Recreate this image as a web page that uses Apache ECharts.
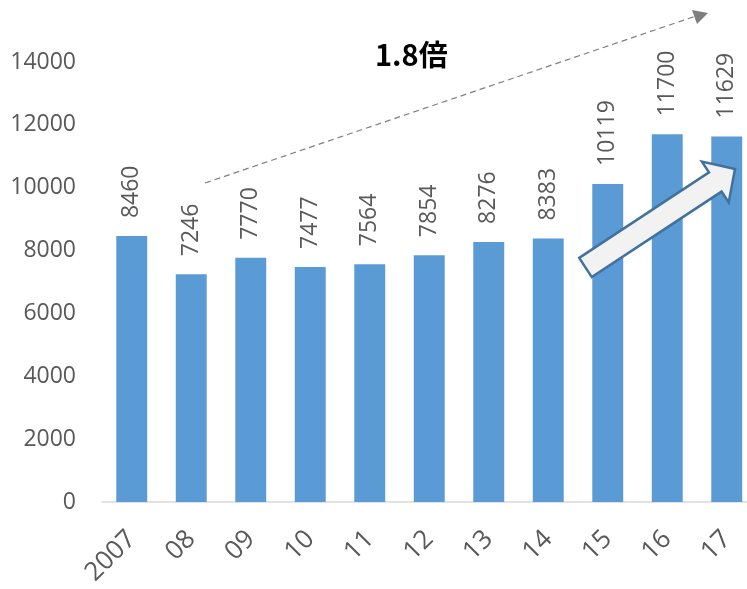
<!DOCTYPE html>
<html>
<head>
<meta charset="utf-8">
<script src="https://cdn.jsdelivr.net/npm/echarts@6/dist/echarts.min.js"></script>
<style>
  html, body { margin: 0; padding: 0; background: #fff; }
  #chart { width: 747px; height: 589px; }
</style>
</head>
<body>
<div id="chart"></div>
<script>
// Annual values, 2007–2017
const years = ['2007', '08', '09', '10', '11', '12', '13', '14', '15', '16', '17'];
const values = [8460, 7246, 7770, 7477, 7564, 7854, 8276, 8383, 10119, 11700, 11629];
const yTicks = [0, 2000, 4000, 6000, 8000, 10000, 12000, 14000];
const growthText = '1.8倍';

const FONT = '"Open Sans", "Liberation Sans", sans-serif';
const TEXT_GRAY = '#595959';
const BAR_BLUE = '#5B9BD5';

const chart = echarts.init(document.getElementById('chart'), null, { renderer: 'canvas' });

chart.setOption({
  animation: false,
  backgroundColor: '#ffffff',
  grid: {
    left: 102, top: 62, width: 654.5, height: 440,
    containLabel: false,
    outerBoundsMode: 'none'
  },
  xAxis: {
    type: 'category',
    data: years,
    axisLine: { show: true, lineStyle: { color: '#d9d9d9', width: 1.5 } },
    axisTick: { show: false },
    axisLabel: {
      rotate: 45,
      margin: 33,
      verticalAlign: 'middle',
      fontSize: 26,
      fontFamily: FONT,
      color: TEXT_GRAY,
      interval: 0
    }
  },
  yAxis: {
    type: 'value',
    min: yTicks[0],
    max: yTicks[yTicks.length - 1],
    interval: yTicks[1] - yTicks[0],
    axisLine: { show: false },
    axisTick: { show: false },
    splitLine: { show: false },
    axisLabel: {
      margin: 26,
      fontSize: 23,
      fontFamily: FONT,
      color: TEXT_GRAY,
      formatter: (v) => String(v)
    }
  },
  series: [{
    type: 'bar',
    data: values,
    barWidth: '52%',
    itemStyle: { color: BAR_BLUE },
    label: {
      show: true,
      position: 'top',
      rotate: 90,
      align: 'left',
      verticalAlign: 'middle',
      distance: 18,
      fontSize: 23,
      fontFamily: FONT,
      color: TEXT_GRAY
    }
  }],
  graphic: [
    // dashed trend arrow across the top
    {
      type: 'line',
      shape: { x1: 205, y1: 183, x2: 696, y2: 16 },
      style: { stroke: '#7f7f7f', lineWidth: 1.2, lineDash: [6, 4] },
      z: 10
    },
    {
      type: 'polygon',
      shape: { points: [[692, 10], [708, 13], [697, 24]] },
      style: { fill: '#7f7f7f' },
      z: 10
    },
    // growth annotation text
    {
      type: 'text',
      x: 375,
      y: 55,
      style: {
        text: growthText,
        font: 'bold 29px "Noto Sans CJK JP", "Open Sans", sans-serif',
        fill: '#000000',
        align: 'left',
        verticalAlign: 'middle'
      },
      z: 10
    },
    // block arrow over the last bars
    {
      type: 'polygon',
      shape: {
        points: [
          [579.2, 257.9], [709.0, 172.4], [701.9, 161.6], [735, 169],
          [728.7, 202.4], [721.6, 191.6], [591.8, 277.1]
        ]
      },
      style: { fill: '#f2f2f2', stroke: '#41719c', lineWidth: 2.5, lineJoin: 'miter' },
      z: 20
    }
  ]
});
</script>
</body>
</html>
